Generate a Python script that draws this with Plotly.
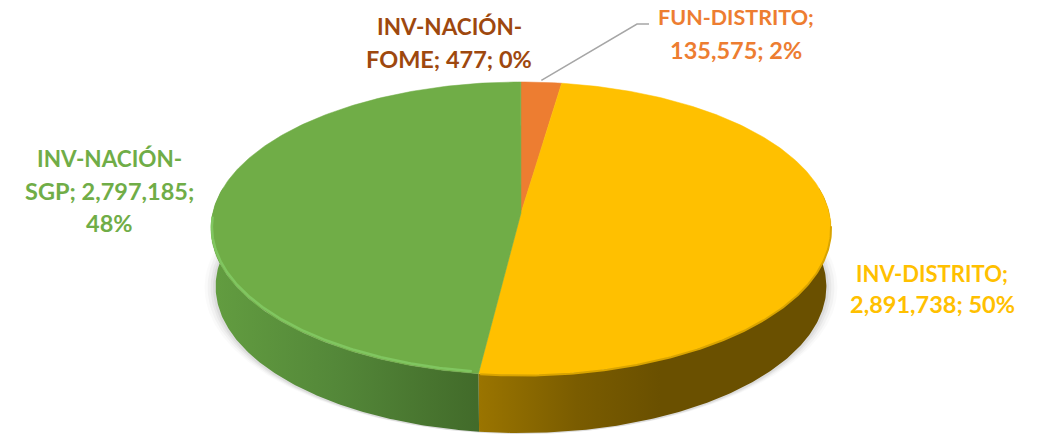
import numpy as np
import plotly.graph_objects as go

# ---- data ----
names = ["FUN-DISTRITO", "INV-DISTRITO", "INV-NACIÓN-SGP", "INV-NACIÓN-FOME"]
values = [135575, 2891738, 2797185, 477]
top_colors = ["#ED7D31", "#FFC000", "#70AD47", "#9E480E"]
text_colors = ["#ED7D31", "#FFC000", "#70AD47", "#9E480E"]
label_lines = [
    ["FUN-DISTRITO;", "135,575; 2%"],
    ["INV-DISTRITO;", "2,891,738; 50%"],
    ["INV-NACIÓN-", "SGP; 2,797,185;", "48%"],
    ["INV-NACIÓN-", "FOME; 477; 0%"],
]

# ---- page geometry of the projected disc ----
W, H = 1041, 436
CX, CY = 521, 213
A, B, Q = 308.3, 144.9, 0.1058
DEPTH, INSET = 58, 0.985
label_x = [736, 932, 109, 449]
label_y = [[17, 50], [273, 304], [158, 191, 223], [26, 59]]
label_sizes = [[21.5, 23.5], [22, 23.5], [22.5, 23.5, 23.5], [22.5, 23.5]]
FONT = "Lato, Carlito, Calibri, sans-serif"


def project(theta, lift=0.0, inset=1.0, scale=1.0):
    u, v = np.sin(theta), np.cos(theta)
    d = 1 + Q * v
    x = CX + inset * scale * A * u / d
    y = CY - scale * B * v / d + lift
    return x, y


def arc(a, b, n=160):
    return np.linspace(a, b, n)


total = sum(values)
edges = np.concatenate([[0], np.cumsum(values)]) / total * 2 * np.pi

fig = go.Figure()

# soft shadow under the disc
full = arc(0, 2 * np.pi, 300)
for grow, alpha in [(11, 0.02), (8, 0.03), (5, 0.04), (2.5, 0.05)]:
    x, y = project(full, lift=DEPTH + 1, inset=INSET + grow / A)
    fig.add_trace(go.Scatter(x=x, y=y, fill="toself", mode="lines", line=dict(width=0),
                             fillcolor=f"rgba(0,0,0,{alpha})", hoverinfo="skip", showlegend=False))


def wall(a, b, stops, x0, x1):
    th = arc(a, b)
    xt, yt = project(th)
    xb, yb = project(th[::-1], lift=DEPTH, inset=INSET)
    fig.add_trace(go.Scatter(
        x=np.concatenate([xt, xb]), y=np.concatenate([yt, yb]), fill="toself", mode="lines",
        line=dict(width=0), hoverinfo="skip", showlegend=False,
        fillgradient=dict(type="horizontal", colorscale=stops, start=x0, stop=x1),
    ))


# side walls: front-facing parts of the yellow and green slices
wall(np.radians(80), edges[2], [[0, "#9B7500"], [0.55, "#7A5C00"], [1, "#6A5000"]], 476, 660)
wall(edges[2], np.radians(280), [[0, "#629C40"], [0.45, "#548839"], [1, "#426B2A"]], 217, 476)

# top face
for i, name in enumerate(names):
    th = arc(edges[i], edges[i + 1], max(4, int((edges[i + 1] - edges[i]) * 80)))
    x, y = project(th)
    x = np.concatenate([[CX], x, [CX]])
    y = np.concatenate([[CY], y, [CY]])
    big = values[i] / total > 0.01
    fig.add_trace(go.Scatter(
        x=x, y=y, fill="toself", mode="lines", fillcolor=top_colors[i],
        line=dict(width=0.5 if big else 0, color=top_colors[i]), name=name, showlegend=False,
        text=f"{name}; {values[i]:,}", hoverinfo="text",
    ))

# bevel highlight along the rim
th = arc(edges[2] + 0.02, np.radians(268))
x, y = project(th, lift=-1.5, scale=0.997)
fig.add_trace(go.Scatter(x=x, y=y, mode="lines", line=dict(width=2.5, color="#80C660"),
                         hoverinfo="skip", showlegend=False))
th = arc(np.radians(95), edges[2] - 0.005)
x, y = project(th, lift=0.5)
fig.add_trace(go.Scatter(x=x, y=y, mode="lines", line=dict(width=2, color="#D9A400"),
                         hoverinfo="skip", showlegend=False))

# leader line from the orange slice to its label
lx, ly = project(np.array([(edges[0] + edges[1]) / 2]), lift=-2)
fig.add_trace(go.Scatter(x=[lx[0], 637, 649], y=[ly[0], 24, 24], mode="lines",
                         line=dict(width=1.5, color="#A6A6A6"), hoverinfo="skip", showlegend=False))

# labels
for lines, xc, ys, sizes, col in zip(label_lines, label_x, label_y, label_sizes, text_colors):
    for line, yc, size in zip(lines, ys, sizes):
        fig.add_annotation(x=xc, y=yc, text=f"<b>{line}</b>", showarrow=False,
                           xanchor="center", yanchor="middle",
                           font=dict(family=FONT, size=size, color=col))

fig.update_layout(
    width=W, height=H, margin=dict(l=0, r=0, t=0, b=0),
    paper_bgcolor="white", plot_bgcolor="white", showlegend=False,
    xaxis=dict(range=[0, W], visible=False, fixedrange=True),
    yaxis=dict(range=[H, 0], visible=False, fixedrange=True),
)
fig.write_html("out.html", config={"displayModeBar": False},
               post_script="document.body.style.margin='0';")
